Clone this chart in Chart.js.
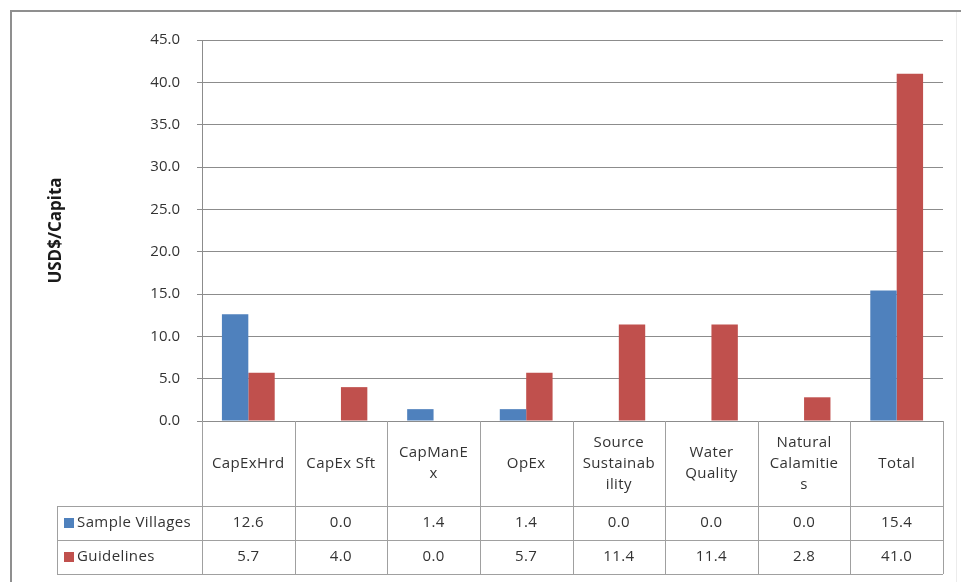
<!DOCTYPE html>
<html>
<head>
<meta charset="utf-8">
<script src="https://cdn.jsdelivr.net/npm/chart.js@4.4.0/dist/chart.umd.min.js"></script>
<style>
  html, body { margin: 0; padding: 0; background: #ffffff; }
  #wrap { width: 961px; height: 582px; position: relative; }
</style>
</head>
<body>
<div id="wrap"><canvas id="c" width="961" height="582"></canvas></div>
<script>
// Cost categories (multi-line labels as they wrap in the table header)
const categories = [
  ['CapExHrd'],
  ['CapEx Sft'],
  ['CapManE', 'x'],
  ['OpEx'],
  ['Source', 'Sustainab', 'ility'],
  ['Water', 'Quality'],
  ['Natural', 'Calamitie', 's'],
  ['Total']
];
const seriesNames = ['Sample Villages', 'Guidelines'];
const sampleVillages = [12.6, 0.0, 1.4, 1.4, 0.0, 0.0, 0.0, 15.4];
const guidelines = [5.7, 4.0, 0.0, 5.7, 11.4, 11.4, 2.8, 41.0];
const yMin = 0, yMax = 45, yStep = 5;
const yTitle = 'USD$/Capita';

const BLUE = '#4F81BD';
const RED = '#C0504D';
const GRID = '#8c8c8c';
const LINE = '#a0a0a0';
const TEXT = '#333333';
const FONT = '"Open Sans", Lato, sans-serif';

// Page frame behind the chart
const framePlugin = {
  id: 'frame',
  beforeDraw(chart) {
    const ctx = chart.ctx;
    ctx.save();
    ctx.fillStyle = '#ffffff';
    ctx.fillRect(0, 0, chart.width, chart.height);
    ctx.strokeStyle = '#8f8f8f';
    ctx.lineWidth = 2;
    ctx.beginPath();
    ctx.moveTo(11, chart.height);
    ctx.lineTo(11, 11);
    ctx.lineTo(chart.width, 11);
    ctx.stroke();
    ctx.strokeStyle = '#ececec';
    ctx.lineWidth = 1;
    ctx.beginPath();
    ctx.moveTo(956.5, 12);
    ctx.lineTo(956.5, chart.height);
    ctx.stroke();
    ctx.restore();
  }
};

// Data table under the plot, laid out on the x scale's category slots
const dataTablePlugin = {
  id: 'dataTable',
  afterDraw(chart) {
    const ctx = chart.ctx;
    const xs = chart.scales.x;
    const area = chart.chartArea;
    const n = categories.length;
    const slot = (area.right - area.left) / n;
    const top = area.bottom;
    const headH = 85;
    const rowH = 34;
    const legendLeft = 57;
    const r1 = top + headH;
    const r2 = r1 + rowH;
    const r3 = r2 + rowH;

    ctx.save();
    ctx.strokeStyle = LINE;
    ctx.lineWidth = 1;
    ctx.beginPath();
    // horizontal rules
    [r1, r2, r3].forEach(y => {
      ctx.moveTo(legendLeft, Math.round(y) + 0.5);
      ctx.lineTo(area.right, Math.round(y) + 0.5);
    });
    // legend column left edge
    ctx.moveTo(legendLeft + 0.5, r1);
    ctx.lineTo(legendLeft + 0.5, r3);
    // category column separators
    for (let i = 0; i <= n; i++) {
      const x = Math.round(xs.getPixelForValue(i) - slot / 2) + 0.5;
      ctx.moveTo(x, top);
      ctx.lineTo(x, r3);
    }
    ctx.stroke();

    ctx.fillStyle = TEXT;
    ctx.font = '15px ' + FONT;
    ctx.letterSpacing = '0.4px';
    ctx.textAlign = 'center';
    ctx.textBaseline = 'middle';
    const lh = 21;
    const headMid = top + headH / 2;
    categories.forEach((lines, i) => {
      const cx = xs.getPixelForValue(i);
      const y0 = headMid - (lines.length - 1) * lh / 2;
      lines.forEach((t, k) => ctx.fillText(t, cx, y0 + k * lh));
    });

    const rows = [sampleVillages, guidelines];
    const colors = [BLUE, RED];
    rows.forEach((vals, r) => {
      const cy = r1 + rowH * r + rowH / 2;
      vals.forEach((v, i) => {
        ctx.fillStyle = TEXT;
        ctx.textAlign = 'center';
        ctx.fillText(v.toFixed(1), xs.getPixelForValue(i), cy);
      });
      ctx.fillStyle = colors[r];
      ctx.fillRect(legendLeft + 7, cy - 5, 10, 10);
      ctx.fillStyle = TEXT;
      ctx.textAlign = 'left';
      ctx.fillText(seriesNames[r], legendLeft + 20, cy);
    });
    ctx.restore();
  }
};

new Chart(document.getElementById('c'), {
  type: 'bar',
  data: {
    labels: categories,
    datasets: [
      { label: seriesNames[0], data: sampleVillages, backgroundColor: BLUE },
      { label: seriesNames[1], data: guidelines, backgroundColor: RED }
    ]
  },
  options: {
    responsive: false,
    animation: false,
    devicePixelRatio: 1,
    layout: { padding: { left: 0, right: 18, top: 40, bottom: 0 } },
    datasets: { bar: { categoryPercentage: 0.57, barPercentage: 1.0 } },
    plugins: {
      legend: { display: false },
      tooltip: { enabled: false },
      title: { display: false }
    },
    scales: {
      x: {
        grid: { display: false },
        border: { display: false },
        ticks: { display: false },
        afterFit(scale) { scale.height = 161; }
      },
      y: {
        min: yMin,
        max: yMax,
        afterFit(scale) { scale.width = 202; },
        ticks: {
          stepSize: yStep,
          padding: 17,
          color: TEXT,
          font: { family: FONT, size: 15 },
          callback: v => Number(v).toFixed(1)
        },
        grid: { color: GRID, tickLength: 5, tickColor: GRID },
        border: { color: GRID },
        title: {
          display: true,
          text: yTitle,
          color: '#1a1a1a',
          font: { family: FONT, size: 17, weight: 'bold' },
          padding: { top: 46, bottom: 0 }
        }
      }
    }
  },
  plugins: [framePlugin, dataTablePlugin]
});
</script>
</body>
</html>
